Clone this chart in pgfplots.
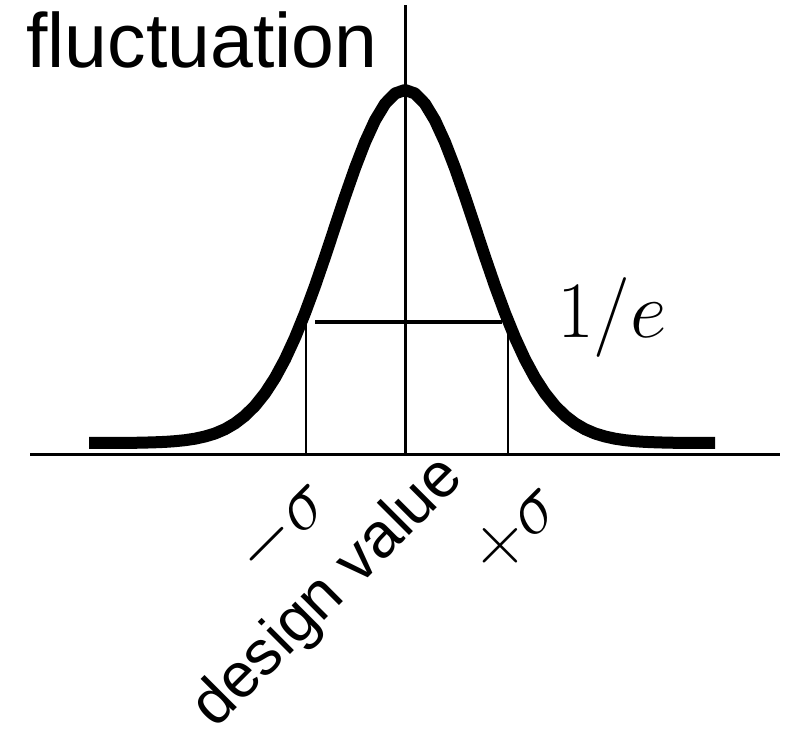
\RequirePackage{fix-cm}
\documentclass[border=0pt]{standalone}
\usepackage{fontspec}
\setmainfont{Liberation Sans}
\usepackage{pgfplots}
\pgfplotsset{compat=1.18}

\begin{document}
\begin{tikzpicture}
\begin{axis}[
  x=100pt, y=100pt,
  xmin=-4.05, xmax=3.91, ymin=-2.74, ymax=4.55,
  hide axis, clip=false, scale only axis,
]
% frame of the drawing area
\path (axis cs:-4.05,-2.74) rectangle (axis cs:3.91,4.55);

% horizontal and vertical axes
\addplot[black, line width=3pt] coordinates {(-3.75,0) (3.75,0)};
\addplot[black, line width=3pt] coordinates {(0,0) (0,4.5)};

% 1/e level and the -sigma / +sigma drop lines
\addplot[black, line width=3.3pt] coordinates {(-0.90,1.33) (0.97,1.33)};
\addplot[black, line width=1.8pt] coordinates {(-0.99,1.32) (-0.99,0)};
\addplot[black, line width=1.8pt] coordinates {(1.03,1.23) (1.03,0)};

% distribution around the design value
\addplot[black, line width=12pt, line join=round, line cap=butt] coordinates {
(-3.16,0.120) (-3.0,0.120) (-2.9,0.121) (-2.8,0.121) (-2.7,0.122) (-2.6,0.124)
(-2.5,0.127) (-2.4,0.131) (-2.3,0.138) (-2.2,0.148) (-2.1,0.163) (-2.0,0.185)
(-1.9,0.215) (-1.8,0.258) (-1.7,0.316) (-1.6,0.393) (-1.5,0.492) (-1.4,0.617)
(-1.3,0.771) (-1.2,0.956) (-1.1,1.173) (-1.0,1.419) (-0.9,1.690) (-0.8,1.981)
(-0.7,2.283) (-0.6,2.583) (-0.5,2.869) (-0.4,3.128) (-0.3,3.346) (-0.2,3.512)
(-0.1,3.615) (0.0,3.650) (0.1,3.615) (0.2,3.512) (0.3,3.346) (0.4,3.128)
(0.5,2.869) (0.6,2.583) (0.7,2.283) (0.8,1.981) (0.9,1.690) (1.0,1.419)
(1.1,1.173) (1.2,0.956) (1.3,0.771) (1.4,0.617) (1.5,0.492) (1.6,0.393)
(1.7,0.316) (1.8,0.258) (1.9,0.215) (2.0,0.185) (2.1,0.163) (2.2,0.148)
(2.3,0.138) (2.4,0.131) (2.5,0.127) (2.6,0.124) (2.7,0.122) (2.8,0.121)
(2.9,0.121) (3.0,0.120) (3.10,0.120)
};

% labels
\node[anchor=base west, inner sep=0pt, font=\fontsize{77}{82}\selectfont]
  at (axis cs:-3.79,3.87) {fluctuation};
\node[anchor=base west, inner sep=0pt, font=\fontsize{80}{86}\selectfont]
  at (axis cs:1.52,1.17) {$1/e$};
\node[rotate=45, inner sep=0pt, font=\fontsize{76}{80}\selectfont]
  at (axis cs:-1.22,-0.73) {$-\sigma$};
\node[rotate=45, inner sep=0pt, font=\fontsize{76}{80}\selectfont]
  at (axis cs:1.11,-0.75) {$+\sigma$};
\node[rotate=45, inner sep=0pt, font=\fontsize{63}{68}\selectfont]
  at (axis cs:-0.76,-1.38) {design value};
\end{axis}
\end{tikzpicture}
\end{document}
